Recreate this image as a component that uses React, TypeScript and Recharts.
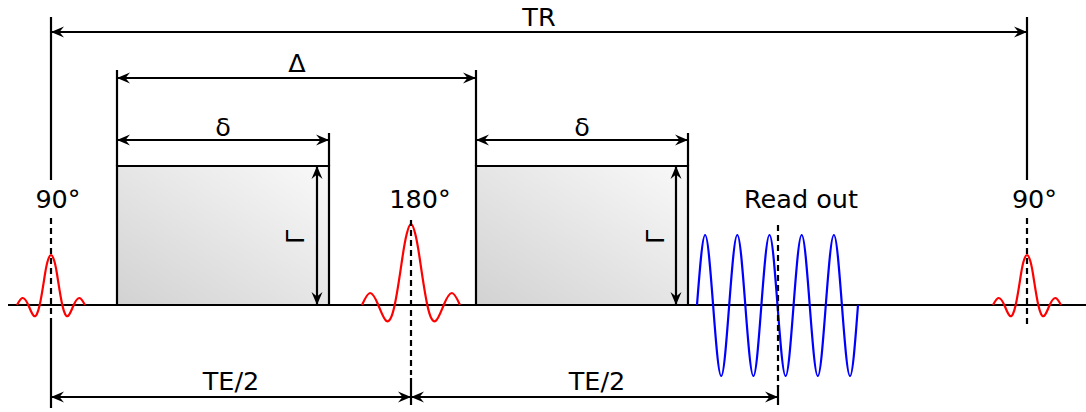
import {
  ComposedChart,
  Line,
  XAxis,
  YAxis,
  ReferenceLine,
  ReferenceArea,
  ReferenceDot,
} from "recharts";

// time axis: arbitrary units, 0 = first 90° pulse; amplitude: 0 = baseline
const excite90 = [
  { t: -34, v: 0 }, { t: -28.5, v: 7 }, { t: -22.7, v: 0 }, { t: -17, v: -11 },
  { t: -11.3, v: 0 }, { t: -6, v: 31 }, { t: -3, v: 45 }, { t: 0, v: 50 },
  { t: 3, v: 45 }, { t: 6, v: 31 }, { t: 11.3, v: 0 }, { t: 17, v: -11 },
  { t: 22.7, v: 0 }, { t: 28.5, v: 7 }, { t: 34, v: 0 },
];

const refocus180 = [
  { t: 311, v: 0 }, { t: 319, v: 12 }, { t: 327.3, v: 0 }, { t: 335.5, v: -16 },
  { t: 343.7, v: 0 }, { t: 351.5, v: 48 }, { t: 355.7, v: 71 }, { t: 360, v: 81 },
  { t: 364.3, v: 71 }, { t: 368.5, v: 48 }, { t: 376.3, v: 0 }, { t: 384.5, v: -16 },
  { t: 392.7, v: 0 }, { t: 401, v: 12 }, { t: 409, v: 0 },
];

const excite90Next = [
  { t: 942, v: 0 }, { t: 947.5, v: 7 }, { t: 953.3, v: 0 }, { t: 959, v: -11 },
  { t: 964.7, v: 0 }, { t: 970, v: 31 }, { t: 973, v: 45 }, { t: 976, v: 50 },
  { t: 979, v: 45 }, { t: 982, v: 31 }, { t: 987.3, v: 0 }, { t: 993, v: -11 },
  { t: 998.7, v: 0 }, { t: 1004.5, v: 7 }, { t: 1010, v: 0 },
];

const readout = [
  { t: 646, v: 0 }, { t: 654.1, v: 70 }, { t: 662.1, v: 0 }, { t: 670.2, v: -71 },
  { t: 678.2, v: 0 }, { t: 686.3, v: 70 }, { t: 694.3, v: 0 }, { t: 702.4, v: -71 },
  { t: 710.4, v: 0 }, { t: 718.5, v: 70 }, { t: 726.5, v: 0 }, { t: 734.6, v: -71 },
  { t: 742.6, v: 0 }, { t: 750.7, v: 70 }, { t: 758.7, v: 0 }, { t: 766.8, v: -71 },
  { t: 774.8, v: 0 }, { t: 782.9, v: 70 }, { t: 790.9, v: 0 }, { t: 799, v: -71 },
  { t: 807, v: 0 },
];

// gradient lobes
const gradients = [
  { from: 66, to: 278, amp: 139 },
  { from: 425, to: 637, amp: 139 },
];
const gradientArrows = [
  { t: 266, label: 244 },
  { t: 625, label: 604 },
];

// double-headed timing arrows
const timingArrows = [
  { from: 0, to: 976, v: 273 }, // TR
  { from: 66, to: 425, v: 227 }, // Δ
  { from: 66, to: 278, v: 165 }, // δ
  { from: 425, to: 637, v: 165 }, // δ
  { from: 0, to: 360, v: -92 }, // TE/2
  { from: 360, to: 727, v: -92 }, // TE/2
];

const solidMarks = [
  { t: 0, top: 288, bottom: 125 },
  { t: 976, top: 288, bottom: 125 },
  { t: 66, top: 235, bottom: 139 },
  { t: 425, top: 235, bottom: 139 },
  { t: 278, top: 172, bottom: 139 },
  { t: 637, top: 172, bottom: 139 },
  { t: 0, top: -13, bottom: -103 },
  { t: 360, top: -73, bottom: -100 },
  { t: 727, top: -80, bottom: -100 },
];

const dashedMarks = [
  { t: 0, top: 87, bottom: -13 },
  { t: 976, top: 87, bottom: -20 },
  { t: 360, top: 85, bottom: -70 },
  { t: 727, top: 80, bottom: -82 },
];

const labels = [
  { t: 488, v: 279, text: "TR" },
  { t: 246, v: 233, text: "Δ" },
  { t: 172, v: 169, text: "δ" },
  { t: 531, v: 169, text: "δ" },
  { t: 7, v: 97, text: "90°" },
  { t: 369, v: 97, text: "180°" },
  { t: 750, v: 97, text: "Read out" },
  { t: 983.5, v: 97, text: "90°" },
  { t: 180, v: -85, text: "TE/2" },
  { t: 546, v: -85, text: "TE/2" },
];

const FONT = "DejaVu Sans, sans-serif";
const SW = 2.2;

const headPoints = (x: number, y: number, ux: number, uy: number) => {
  const L = 13;
  const W = 5.5;
  const N = 8.5;
  const bx = x - ux * L;
  const by = y - uy * L;
  const px = -uy;
  const py = ux;
  return `${x},${y} ${bx + px * W},${by + py * W} ${x - ux * N},${y - uy * N} ${bx - px * W},${by - py * W}`;
};

const DoubleArrow = (props: any) => {
  const { x1, y1, x2, y2 } = props;
  const len = Math.hypot(x2 - x1, y2 - y1) || 1;
  const ux = (x2 - x1) / len;
  const uy = (y2 - y1) / len;
  return (
    <g>
      <line x1={x1} y1={y1} x2={x2} y2={y2} stroke="#000" strokeWidth={SW} />
      <polygon points={headPoints(x1, y1, -ux, -uy)} fill="#000" />
      <polygon points={headPoints(x2, y2, ux, uy)} fill="#000" />
    </g>
  );
};

const pulseLines = [
  { data: excite90, color: "#ff0000" },
  { data: refocus180, color: "#ff0000" },
  { data: excite90Next, color: "#ff0000" },
  { data: readout, color: "#0000ff" },
];

export default function App() {
  return (
    <>
      <style>{"body{margin:0}"}</style>
      <ComposedChart width={1086} height={412} margin={{ top: 0, right: 0, bottom: 0, left: 0 }}>
        <defs>
          <linearGradient id="gradFill" x1="0" y1="1" x2="1" y2="0">
            <stop offset="0%" stopColor="#d2d2d2" />
            <stop offset="100%" stopColor="#f9f9f9" />
          </linearGradient>
        </defs>
        <XAxis type="number" dataKey="t" domain={[-51, 1035]} hide allowDataOverflow />
        <YAxis type="number" domain={[-107, 305]} hide allowDataOverflow />

        {gradients.map((g, i) => (
          <ReferenceArea
            key={`g${i}`}
            x1={g.from}
            x2={g.to}
            y1={0}
            y2={g.amp}
            fill="url(#gradFill)"
            fillOpacity={1}
            stroke="#000"
            strokeWidth={SW}
          />
        ))}

        <ReferenceLine
          segment={[{ x: -43, y: 0 }, { x: 1035, y: 0 }]}
          stroke="#000"
          strokeWidth={SW}
        />

        {pulseLines.map((p, i) => (
          <Line
            key={`p${i}`}
            data={p.data}
            dataKey="v"
            type="natural"
            stroke={p.color}
            strokeWidth={SW}
            strokeLinecap="butt"
            dot={false}
            activeDot={false}
            legendType="none"
            isAnimationActive={false}
          />
        ))}

        {solidMarks.map((m, i) => (
          <ReferenceLine
            key={`s${i}`}
            segment={[{ x: m.t, y: m.top }, { x: m.t, y: m.bottom }]}
            stroke="#000"
            strokeWidth={SW}
          />
        ))}
        {dashedMarks.map((m, i) => (
          <ReferenceLine
            key={`d${i}`}
            segment={[{ x: m.t, y: m.top }, { x: m.t, y: m.bottom }]}
            stroke="#000"
            strokeWidth={SW}
            strokeDasharray="6 4"
          />
        ))}

        {timingArrows.map((a, i) => (
          <ReferenceLine
            key={`a${i}`}
            segment={[{ x: a.from, y: a.v }, { x: a.to, y: a.v }]}
            shape={DoubleArrow}
          />
        ))}
        {gradientArrows.map((a, i) => (
          <ReferenceLine
            key={`ga${i}`}
            segment={[{ x: a.t, y: 139 }, { x: a.t, y: 0 }]}
            shape={DoubleArrow}
          />
        ))}
        {gradientArrows.map((a, i) => (
          <ReferenceDot
            key={`gl${i}`}
            x={a.label}
            y={68}
            r={0}
            shape={(p: any) => (
              <text
                x={p.cx}
                y={p.cy}
                transform={`rotate(-90 ${p.cx} ${p.cy})`}
                textAnchor="middle"
                dominantBaseline="central"
                fontFamily={FONT}
                fontSize={25.5}
                fill="#000"
              >
                Γ
              </text>
            )}
          />
        ))}

        {labels.map((l, i) => (
          <ReferenceDot
            key={`l${i}`}
            x={l.t}
            y={l.v}
            r={0}
            shape={(p: any) => (
              <text x={p.cx} y={p.cy} textAnchor="middle" fontFamily={FONT} fontSize={25.5} fill="#000">
                {l.text}
              </text>
            )}
          />
        ))}
      </ComposedChart>
    </>
  );
}
